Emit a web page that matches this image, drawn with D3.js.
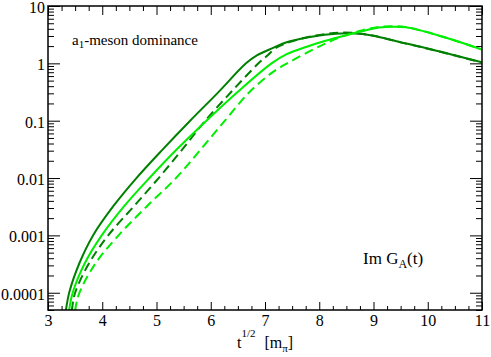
<!DOCTYPE html>
<html>
<head>
<meta charset="utf-8">
<script src="https://cdn.jsdelivr.net/npm/d3@7"></script>
<style>
  html, body { margin: 0; padding: 0; background: #fff; }
  svg { display: block; }
</style>
</head>
<body>
<svg id="chart" width="491" height="357"></svg>
<script>
// ---- data ----
const xTicks = [3, 4, 5, 6, 7, 8, 9, 10, 11];
const xTickLabels = ["3", "4", "5", "6", "7", "8", "9", "10", "11"];
const yTicks = [1e-4, 1e-3, 1e-2, 1e-1, 1, 10];
const yTickLabels = ["0.0001", "0.001", "0.01", "0.1", "1", "10"];

// dark green solid
const darkSolidT = [3.27, 3.33, 3.39, 3.58, 3.83, 4.2, 4.63, 5.12, 5.62, 6.12, 6.65, 6.85, 7.15, 7.4, 7.77, 8.1, 8.5, 8.8, 9.0, 9.5, 10.0, 10.5, 11.0];
const darkSolidV = [2e-5, 5e-5, 1e-4, 3.3e-4, 1e-3, 3.2e-3, 1e-2, 0.032, 0.1, 0.3, 1.0, 1.38, 1.86, 2.34, 2.82, 3.16, 3.34, 3.24, 3.02, 2.34, 1.82, 1.38, 1.04];

// dark green dashed
const darkDashT = [3.38, 3.44, 3.50, 3.76, 4.11, 4.58, 5.04, 5.48, 5.9, 6.38, 6.88, 7.05, 7.2, 7.45, 7.8, 8.1, 8.4, 8.7, 9.0, 9.5, 10.0, 10.5, 11.0];
const darkDashV = [1.6e-5, 5e-5, 1e-4, 3.3e-4, 1e-3, 3.2e-3, 1e-2, 0.032, 0.1, 0.32, 1.0, 1.38, 1.86, 2.34, 2.88, 3.24, 3.43, 3.35, 3.02, 2.32, 1.8, 1.37, 1.03];

// light green solid
const lightSolidT = [3.34, 3.39, 3.455, 3.68, 3.99, 4.4, 4.87, 5.38, 5.92, 6.5, 7.12, 7.4, 7.77, 8.1, 8.5, 8.9, 9.1, 9.35, 9.6, 9.9, 10.23, 10.6, 11.0];
const lightSolidV = [1.6e-5, 5e-5, 1e-4, 3.3e-4, 1e-3, 3.2e-3, 1e-2, 0.032, 0.1, 0.32, 1.0, 1.45, 1.95, 2.45, 3.1, 3.85, 4.2, 4.36, 4.25, 3.68, 3.0, 2.34, 1.74];

// light green dashed
const lightDashT = [3.43, 3.50, 3.58, 3.88, 4.30, 4.82, 5.36, 5.82, 6.26, 6.72, 7.15, 7.45, 7.8, 8.1, 8.4, 8.8, 9.1, 9.35, 9.6, 9.9, 10.23, 10.6, 11.0];
const lightDashV = [1.6e-5, 5e-5, 1e-4, 3.3e-4, 1e-3, 3.2e-3, 1e-2, 0.032, 0.1, 0.32, 0.71, 1.05, 1.58, 2.19, 2.88, 3.8, 4.3, 4.45, 4.28, 3.68, 3.0, 2.34, 1.74];

const series = [
  { t: darkSolidT, v: darkSolidV, color: "#008000", dash: null },
  { t: darkDashT, v: darkDashV, color: "#008000", dash: "9,5" },
  { t: lightSolidT, v: lightSolidV, color: "#00ee00", dash: null },
  { t: lightDashT, v: lightDashV, color: "#00ee00", dash: "9,5" }
];

const FONT = "font-family: 'Liberation Serif', 'DejaVu Serif', serif";

// ---- layout ----
const L = 48, R = 482, T = 6, B = 310;
const svg = d3.select("#chart");
const x = d3.scaleLinear().domain([3, 11]).range([L, R]);
const y = d3.scaleLog().domain([5e-5, 10]).range([B, T]);

svg.append("defs").append("clipPath").attr("id", "clip")
  .append("rect").attr("x", L).attr("y", T).attr("width", R - L).attr("height", B - T);

const xMinor = d3.range(3, 11.001, 0.25).filter(v => Math.abs(v - Math.round(v)) > 1e-6);
const yMinor = [];
for (let e = -5; e <= 0; e++) for (let m = 2; m <= 9; m++) {
  const v = m * Math.pow(10, e);
  if (v >= 5e-5 && v <= 10) yMinor.push(v);
}

function styleAxis(g) {
  g.select(".domain").remove();
  g.selectAll(".tick line").attr("stroke", "#000").attr("stroke-width", 1);
}

// bottom
svg.append("g").attr("transform", `translate(0,${B})`)
  .call(d3.axisBottom(x).tickValues(xTicks).tickSize(-8).tickPadding(5)
    .tickFormat((d, i) => xTickLabels[i]))
  .call(styleAxis)
  .selectAll("text").attr("style", FONT + "; font-size: 16px").attr("fill", "#000");
svg.append("g").attr("transform", `translate(0,${B})`)
  .call(d3.axisBottom(x).tickValues(xMinor).tickSize(-4).tickFormat(""))
  .call(styleAxis);
// top
svg.append("g").attr("transform", `translate(0,${T})`)
  .call(d3.axisTop(x).tickValues(xTicks).tickSize(-9).tickFormat(""))
  .call(styleAxis);
svg.append("g").attr("transform", `translate(0,${T})`)
  .call(d3.axisTop(x).tickValues(xMinor).tickSize(-5).tickFormat(""))
  .call(styleAxis);
// left
svg.append("g").attr("transform", `translate(${L},0)`)
  .call(d3.axisLeft(y).tickValues(yTicks).tickSize(-12).tickPadding(3)
    .tickFormat((d, i) => yTickLabels[i]))
  .call(styleAxis)
  .selectAll("text").attr("style", FONT + "; font-size: 16px").attr("fill", "#000").attr("dy", "0.4em");
svg.append("g").attr("transform", `translate(${L},0)`)
  .call(d3.axisLeft(y).tickValues(yMinor).tickSize(-6).tickFormat(""))
  .call(styleAxis);
// right
svg.append("g").attr("transform", `translate(${R},0)`)
  .call(d3.axisRight(y).tickValues(yTicks).tickSize(-12).tickFormat(""))
  .call(styleAxis);
svg.append("g").attr("transform", `translate(${R},0)`)
  .call(d3.axisRight(y).tickValues(yMinor).tickSize(-6).tickFormat(""))
  .call(styleAxis);

// curves
const line = d3.line()
  .x(d => x(d[0]))
  .y(d => y(d[1]))
  .curve(d3.curveCatmullRom.alpha(0.5));

const gLines = svg.append("g").attr("clip-path", "url(#clip)");
series.forEach(s => {
  const pts = s.t.map((t, i) => [t, s.v[i]]);
  gLines.append("path")
    .attr("d", line(pts))
    .attr("fill", "none")
    .attr("stroke", s.color)
    .attr("stroke-width", 2)
    .attr("stroke-dasharray", s.dash);
});

// frame
svg.append("rect").attr("x", L).attr("y", T).attr("width", R - L).attr("height", B - T)
  .attr("fill", "none").attr("stroke", "#000").attr("stroke-width", 1.5);

// annotations
const a1 = svg.append("text").attr("x", 72).attr("y", 45).attr("style", FONT + "; font-size: 15px");
a1.append("tspan").text("a");
a1.append("tspan").attr("style", "font-size: 11px").attr("dy", 3).text("1");
a1.append("tspan").attr("dy", -3).text("-meson dominance");

const im = svg.append("text").attr("x", 363).attr("y", 264).attr("style", FONT + "; font-size: 17px");
im.append("tspan").text("Im G");
im.append("tspan").attr("style", "font-size: 12px").attr("dy", 4).text("A");
im.append("tspan").attr("dy", -4).text("(t)");

const xl = svg.append("text").attr("x", 237).attr("y", 348).attr("style", FONT + "; font-size: 16px");
xl.append("tspan").text("t");
xl.append("tspan").attr("style", "font-size: 11px").attr("dy", -11).text("1/2");
xl.append("tspan").attr("dy", 11).attr("dx", 9).text("[m");
xl.append("tspan").attr("style", "font-size: 11px").attr("dy", 4).text("π");
xl.append("tspan").attr("dy", -4).text("]");
</script>
</body>
</html>
